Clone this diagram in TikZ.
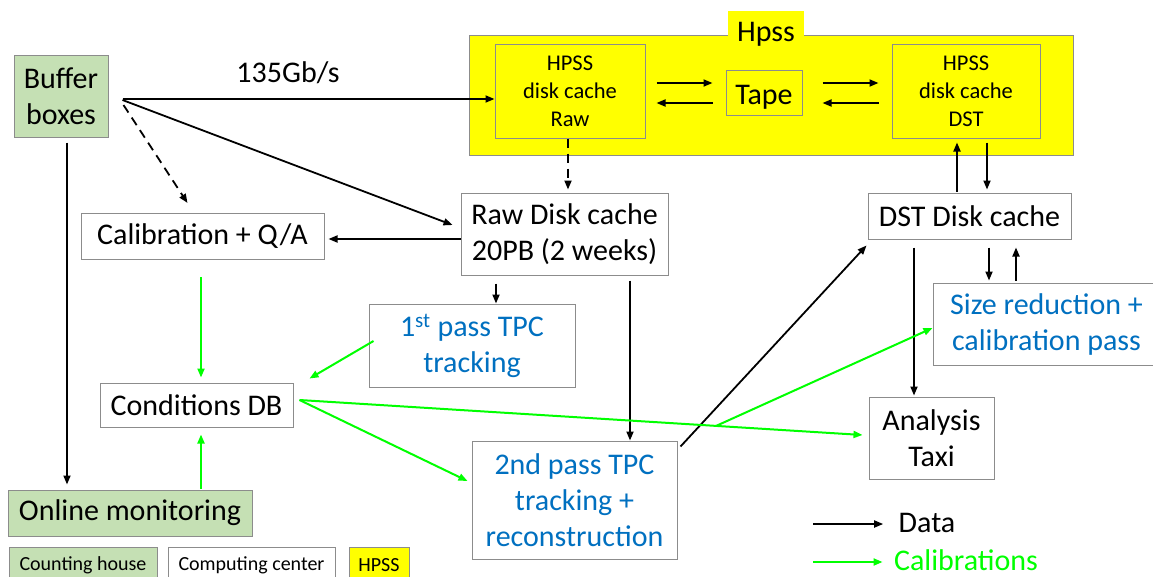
\documentclass[tikz,border=0pt]{standalone}
\usepackage{fontspec}
\setmainfont{Carlito}
\usetikzlibrary{arrows.meta, positioning, calc}
\definecolor{hpssyellow}{HTML}{FFFF00}
\definecolor{countgreen}{HTML}{C5E0B4}
\definecolor{boxgray}{HTML}{8C8C8C}
\definecolor{passblue}{HTML}{0070C0}
\definecolor{calibgreen}{HTML}{00FF00}
\newcommand{\bigtxt}{\fontsize{30}{36}\selectfont}
\newcommand{\smalltxt}{\fontsize{22.5}{28}\selectfont}
\newcommand{\legtxt}{\fontsize{20}{24}\selectfont}

\begin{document}
\begin{tikzpicture}[
  x=1pt, y=-1pt,
  box/.style={
    draw=boxgray, line width=1pt, fill=#1,
    align=center, inner sep=0pt, font=\bigtxt
  },
  box/.default=white,
  passbox/.style={box, text=passblue},
  datarrow/.style={draw=black, line width=1.8pt, -{Triangle[length=9pt,width=7pt]}},
  calarrow/.style={draw=calibgreen, line width=2pt, -{Triangle[length=9pt,width=7pt]}},
  dashy/.style={dash pattern=on 9pt off 6pt}
]
  \useasboundingbox (0,0) rectangle (1153,576);

  % HPSS block
  \node[box=hpssyellow, minimum width=604, minimum height=120] (hpss) at (771,95) {};
  \node[fill=hpssyellow, minimum width=76, minimum height=46, inner sep=0pt, font=\bigtxt] (hpsstab) at (766,34) {Hpss};
  \node[box=hpssyellow, font=\smalltxt, minimum width=150, minimum height=94] (hraw) at (570,91) {HPSS\\disk cache\\Raw};
  \node[box=hpssyellow, minimum width=76, minimum height=45, text height=28pt, text depth=4pt] (tape) at (764,92.5) {Tape};
  \node[box=hpssyellow, font=\smalltxt, minimum width=148, minimum height=94] (hdst) at (966,91) {HPSS\\disk cache\\DST};

  % counting house and computing center
  \node[box=countgreen, minimum width=94, minimum height=82] (buffer) at (61,96) {Buffer\\boxes};
  \node[font=\bigtxt] (rate) at (288,73) {135Gb/s};
  \node[box, minimum width=207, minimum height=82] (raw) at (564.5,234) {Raw Disk cache\\20PB (2 weeks)};
  \node[box, minimum width=243, minimum height=46] (calib) at (202.5,236.5) {Calibration + Q/A};
  \node[passbox, minimum width=206, minimum height=83] (first) at (472,345.5) {1\textsuperscript{st} pass TPC\\tracking};
  \node[box, minimum width=193, minimum height=44] (conddb) at (196.5,405) {Conditions DB};
  \node[passbox, minimum width=205, minimum height=118] (second) at (574.5,500) {2nd pass TPC\\tracking +\\reconstruction};
  \node[box, minimum width=203, minimum height=46] (dstcache) at (969.5,216) {DST Disk cache};
  \node[passbox, minimum width=227, minimum height=82] (sizered) at (1046.5,324) {Size reduction +\\calibration pass};
  \node[box, minimum width=125, minimum height=82] (taxi) at (931.5,438) {Analysis\\Taxi};
  \node[box=countgreen, minimum width=244, minimum height=46] (online) at (130,513) {Online monitoring};

  % legend
  \node[box=countgreen, font=\legtxt, minimum width=148, minimum height=36] (lgcount) at (83,565) {Counting house};
  \node[box, font=\legtxt, minimum width=167, minimum height=36] (lgcomp) at (251.5,565) {Computing center};
  \node[box=hpssyellow, font=\legtxt, minimum width=60, minimum height=36] (lghpss) at (379,565) {HPSS};
  \coordinate (lgdata) at (813,524);
  \coordinate (lgcal) at (813,562);
  \node[font=\bigtxt] (datalbl) at (927,523) {Data};
  \node[font=\bigtxt, text=calibgreen] (callbl) at (966,560) {Calibrations};
  \draw[datarrow, shorten >=12pt] (lgdata) -- (lgdata -| datalbl.west);
  \draw[calarrow, shorten >=8pt] (lgcal) -- (lgcal -| callbl.west);

  % data flow
  \draw[datarrow] ([xshift=14pt,yshift=-3pt]buffer.east) -- ([yshift=-8pt]hraw.west);
  \draw[datarrow] ([xshift=14pt,yshift=-4pt]buffer.east) -- ([xshift=-8pt,yshift=9pt]raw.west);
  \draw[datarrow, dashy] ([xshift=15pt,yshift=-9pt]buffer.east) -- ([xshift=-15pt,yshift=10pt]calib.north);
  \draw[datarrow, shorten <=5pt, shorten >=5pt] ([xshift=6pt]buffer.south) -- ([xshift=6pt]buffer.south |- online.north);
  \draw[datarrow, shorten >=4pt] ([yshift=-5pt]raw.west) -- ([yshift=-5pt]raw.west -| calib.east);
  \draw[datarrow, dashy, shorten >=3pt] ([xshift=-2pt]hraw.south) -- ([xshift=-2pt]hraw.south |- raw.north);
  \draw[datarrow, shorten <=11pt, shorten >=13pt] ([yshift=9.5pt]tape.west -| hraw.east) -- ([yshift=9.5pt]tape.west);
  \draw[datarrow, shorten <=13pt, shorten >=11pt] ([yshift=-10.5pt]tape.west) -- ([yshift=-10.5pt]tape.west -| hraw.east);
  \draw[datarrow, shorten <=20pt, shorten >=13pt] ([yshift=9.5pt]tape.east) -- ([yshift=9.5pt]tape.east -| hdst.west);
  \draw[datarrow, shorten <=13pt, shorten >=20pt] ([yshift=-10.5pt]tape.east -| hdst.west) -- ([yshift=-10.5pt]tape.east);
  \draw[datarrow, shorten <=1pt, shorten >=4pt] ([xshift=-12.5pt]dstcache.north) -- ([xshift=-12.5pt]dstcache.north |- hdst.south);
  \draw[datarrow, shorten <=4pt, shorten >=3pt] ([xshift=21pt]hdst.south) -- ([xshift=21pt]hdst.south |- dstcache.north);
  \draw[datarrow, shorten <=8pt] ([xshift=24pt]first.north |- raw.south) -- ([xshift=24pt]first.north);
  \draw[datarrow, shorten <=5pt] ([xshift=55.5pt]second.north |- raw.south) -- ([xshift=55.5pt]second.north);
  \draw[datarrow] ([shift={(3pt,-6pt)}]second.north east) -- ([shift={(-1pt,-6pt)}]dstcache.south west);
  \draw[datarrow, shorten <=8pt, shorten >=1pt] ([xshift=-17.5pt]taxi.north |- dstcache.south) -- ([xshift=-17.5pt]taxi.north);
  \draw[datarrow, shorten <=8pt, shorten >=2pt] ([xshift=19.5pt]dstcache.south) -- ([xshift=19.5pt]dstcache.south |- sizered.north);
  \draw[datarrow, shorten <=2pt, shorten >=8pt] ([xshift=46.5pt]dstcache.south |- sizered.north) -- ([xshift=46.5pt]dstcache.south);

  % calibration flow
  \draw[calarrow, shorten <=17pt, shorten >=5pt] ([xshift=-1.5pt]calib.south) -- ([xshift=-1.5pt]calib.south |- conddb.north);
  \draw[calarrow, shorten <=1pt, shorten >=7pt] ([xshift=4.5pt]conddb.south |- online.north) -- ([xshift=4.5pt]conddb.south);
  \draw[calarrow] ([shift={(5pt,4.5pt)}]first.west) -- ([shift={(16pt,4pt)}]conddb.north east);
  \draw[calarrow] ([shift={(6pt,5pt)}]conddb.east) -- ([shift={(-4pt,19pt)}]second.west);
  \draw[calarrow] ([shift={(6pt,5pt)}]conddb.east) -- coordinate[pos=0.74] (branch) ([shift={(-6pt,3pt)}]taxi.west);
  \draw[calarrow] (branch) -- ([yshift=-4pt]sizered.west);
\end{tikzpicture}
\end{document}
